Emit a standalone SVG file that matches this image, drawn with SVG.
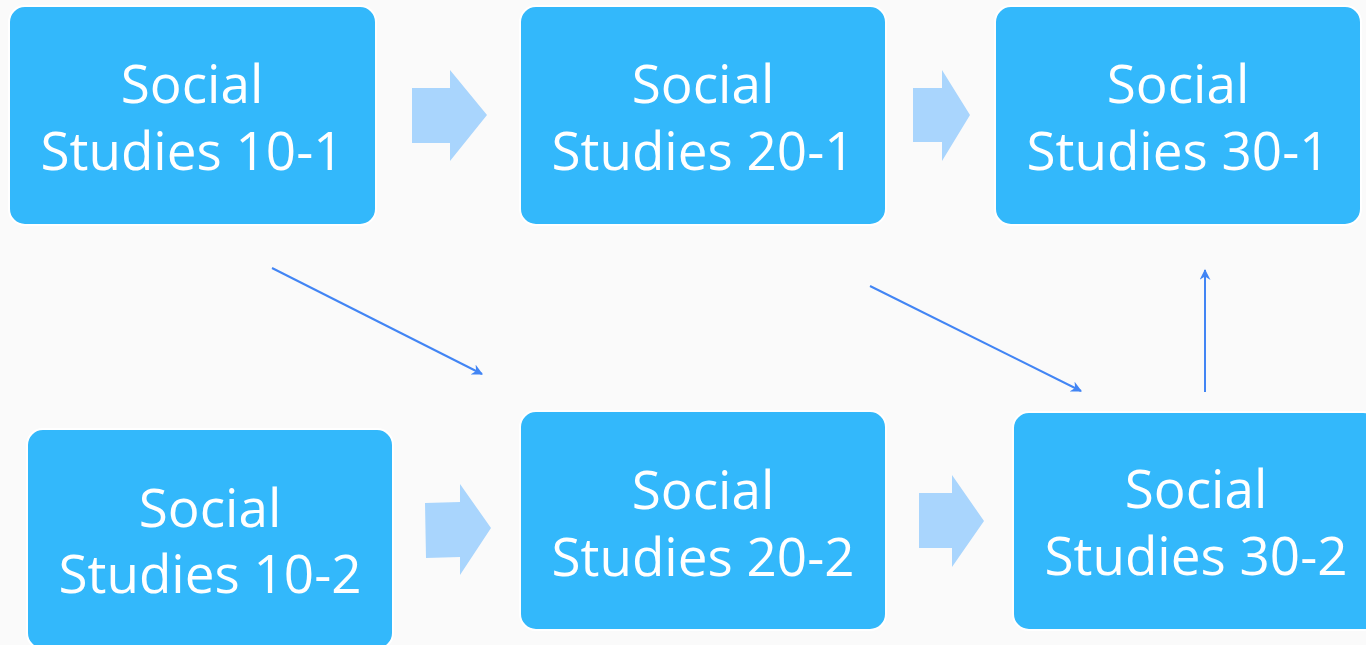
<svg xmlns="http://www.w3.org/2000/svg" width="1366" height="645" viewBox="0 0 1366 645">
<defs>
<style>
.box{fill:#33B8FB;stroke:#ffffff;stroke-width:2}
.lbl{fill:#ffffff;font-family:"Open Sans","Noto Sans",sans-serif;font-size:53px;text-anchor:middle}
.blk{fill:#A9D5FD}
.con{stroke:#4285F4;stroke-width:2;fill:none;marker-end:url(#ah)}
</style>
<marker id="ah" viewBox="0 0 10 10" refX="9" refY="5" markerWidth="12" markerHeight="11" orient="auto" markerUnits="userSpaceOnUse">
<path d="M0,0 L10,5 L0,10 L3,5 Z" fill="#4285F4"/>
</marker>
</defs>
<rect width="1366" height="645" fill="#FAFAFA"/>
<g id="connectors">
<polygon class="blk" points="412,88 450,88 450,70 487,115 450,161 450,143 412,143"/>
<polygon class="blk" points="913,88 942,88 942,70 970,115 942,161 942,142 913,142"/>
<polygon class="blk" points="425,503 460,502 460,484 491,528 460,575 460,557 426,558"/>
<polygon class="blk" points="919,493 952,493 952,475 984,521 952,567 952,548 919,548"/>
<line class="con" x1="272" y1="268" x2="482" y2="374"/>
<line class="con" x1="870" y1="286" x2="1081" y2="391"/>
<line class="con" x1="1205" y1="392" x2="1205" y2="270"/>
</g>
<g id="n101">
<rect class="box" x="9" y="6" width="367" height="219" rx="16"/>
<text class="lbl" x="192" y="103">Social</text>
<text class="lbl" x="192" y="170">Studies 10-1</text>
</g>
<g id="n201">
<rect class="box" x="520" y="6" width="366" height="219" rx="16"/>
<text class="lbl" x="703" y="103">Social</text>
<text class="lbl" x="703" y="170">Studies 20-1</text>
</g>
<g id="n301">
<rect class="box" x="995" y="6" width="366" height="219" rx="16"/>
<text class="lbl" x="1178" y="103">Social</text>
<text class="lbl" x="1178" y="170">Studies 30-1</text>
</g>
<g id="n102">
<rect class="box" x="27" y="429" width="366" height="220" rx="16"/>
<text class="lbl" x="210" y="527">Social</text>
<text class="lbl" x="210" y="593">Studies 10-2</text>
</g>
<g id="n202">
<rect class="box" x="520" y="411" width="366" height="219" rx="16"/>
<text class="lbl" x="703" y="509">Social</text>
<text class="lbl" x="703" y="576">Studies 20-2</text>
</g>
<g id="n302">
<rect class="box" x="1013" y="412" width="366" height="218" rx="16"/>
<text class="lbl" x="1196" y="508">Social</text>
<text class="lbl" x="1196" y="575">Studies 30-2</text>
</g>
</svg>
